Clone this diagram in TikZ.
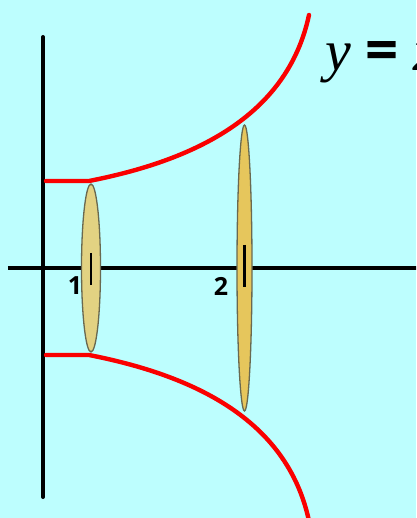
\documentclass[tikz,border=0pt]{standalone}
\usepackage{fontspec}
\setmainfont{Liberation Serif}
\newfontfamily\numfont{Open Sans}
\usepackage{tikz}
\usepackage{xcolor}
\usetikzlibrary{positioning,calc}
\definecolor{bgcyan}{RGB}{189,254,254}
\definecolor{curvered}{RGB}{250,0,0}
\definecolor{discA}{RGB}{226,210,130}
\definecolor{discB}{RGB}{230,198,92}
\definecolor{discrim}{RGB}{105,105,80}
\tikzset{
  axis/.style={line width=4pt,black},
  profile/.style={line width=4.4pt,curvered,line cap=round,line join=round},
  disc/.style={draw=discrim,line width=1.3pt},
  tickmark/.style={line width=2.2pt,black},
  numlab/.style={font=\numfont\bfseries\fontsize{25}{25}\selectfont,inner sep=0pt}
}

\begin{document}
\begin{tikzpicture}[x=1pt,y=1pt]

% ---------------- frame ----------------
\useasboundingbox (-43,-250) rectangle (373,268);
\fill[bgcyan] (-43,-250) rectangle (373,268);
\clip (-43,-250) rectangle (373,268);
\coordinate (O) at (0,0);

% ---------------- axes ----------------
\coordinate (xl) at (-35,0);
\coordinate (xr) at (380,0);
\coordinate (yt) at (0,231);
\coordinate (yb) at (0,-229);
\draw[axis] (xl) -- (xr);
\draw[axis,line cap=round] (yt) -- (yb);

% ---------------- discs at x=1 and x=2 ----------------
\foreach \x/\rx/\ry/\col/\n in {48/9.5/84/discA/1, 201.5/7.5/143/discB/2}{
  \fill[\col,disc] (\x,0) ellipse ({\rx} and {\ry});
}
\draw[tickmark] (48,15) -- (48,-17);
\draw[tickmark] (201.5,23) -- (201.5,-19);
\node[numlab] (lab1) at (32,-17.5) {1};
\node[numlab] (lab2) at (178,-18.5) {2};

% ---------------- generating curve and its mirror ----------------
\foreach \s in {1,-1}{
  \begin{scope}[yscale=\s]
    \draw[profile] (3,87) -- (46,87)
      .. controls (148,107) and (244,150) .. (266,253);
  \end{scope}
}

% ---------------- label ----------------
\node[anchor=base west,inner sep=0pt,font=\fontsize{58}{58}\selectfont]
  (eqn) at (282,197) {\itshape y\upshape\ {\numfont\bfseries =}\ \itshape x};

\end{tikzpicture}
\end{document}
